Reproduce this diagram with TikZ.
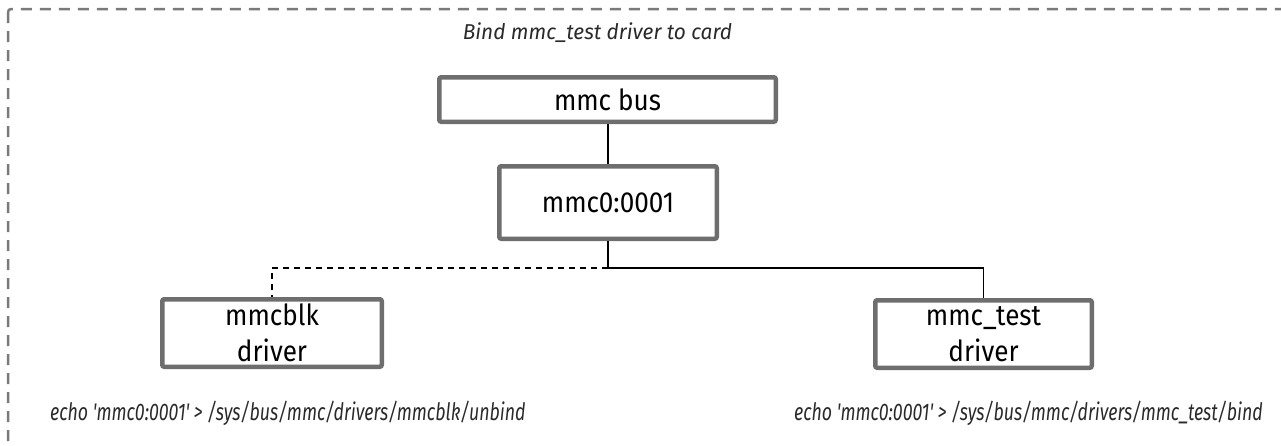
\documentclass[tikz,border=0pt]{standalone}
\usepackage{fontspec}
\setmainfont{Fira Sans}[FakeStretch=0.9]
\newfontfamily\headfont{Fira Sans}[FakeStretch=0.97]
\newfontfamily\cmdfont{Fira Sans}[FakeStretch=0.74]
\definecolor{boxgray}{HTML}{6E6E6E}
\definecolor{framegray}{HTML}{7A7A7A}
\definecolor{notegray}{HTML}{2A2A2A}
\begin{document}
\begin{tikzpicture}[x=1pt,y=-1pt,
  unit/.style={draw=boxgray, line width=4.5pt, rounded corners=2pt, fill=white,
    inner sep=0pt, align=center, font=\fontsize{29}{36}\selectfont},
  link/.style={line width=1.5pt, black},
  weak/.style={link, dash pattern=on 6pt off 5pt},
  heading/.style={font=\headfont\fontsize{21.5}{25}\selectfont\itshape, text=notegray, inner sep=0pt},
  cmd/.style={font=\cmdfont\fontsize{24}{28}\selectfont\itshape, text=notegray, inner sep=0pt}]
  \useasboundingbox (0,0) rectangle (1281,445);
  \clip (0,0) rectangle (1281,445);
  % outer dashed frame, running off the right and bottom edges
  \draw[framegray, line width=2.5pt, dash pattern=on 11pt off 8pt, rounded corners=3pt]
    (8,9) rectangle (1320,470);
  % heading
  \node[heading, anchor=base] (title) at (597.5,39) {Bind mmc\_test driver to card};
  % bus, device and drivers
  \node[unit, minimum width=336.5pt, minimum height=44.5pt] (bus) at (607.5,99.5) {mmc bus};
  \node[unit, minimum width=217.5pt, minimum height=72.5pt] (dev) at (608,202.5) {mmc0:0001};
  \node[unit, minimum width=219.5pt, minimum height=67.5pt] (blk) at (272,333) {mmcblk\\driver};
  \node[unit, minimum width=216.5pt, minimum height=67.5pt] (test) at (983.5,334) {mmc\_test\\driver};
  % connections
  \coordinate (fork) at (608,268);
  \draw[link] (dev.north) -- (dev.north |- bus.south);
  \draw[link] (dev.south) -- (fork);
  \draw[link] (fork) -| (test.north);
  \draw[weak] (fork) -| (blk.north);
  % commands
  \node[cmd, anchor=base west] (cmdl) at (50,420) {echo 'mmc0:0001' > /sys/bus/mmc/drivers/mmcblk/unbind};
  \node[cmd, anchor=base east] (cmdr) at (1263,420) {echo 'mmc0:0001' > /sys/bus/mmc/drivers/mmc\_test/bind};
\end{tikzpicture}
\end{document}
